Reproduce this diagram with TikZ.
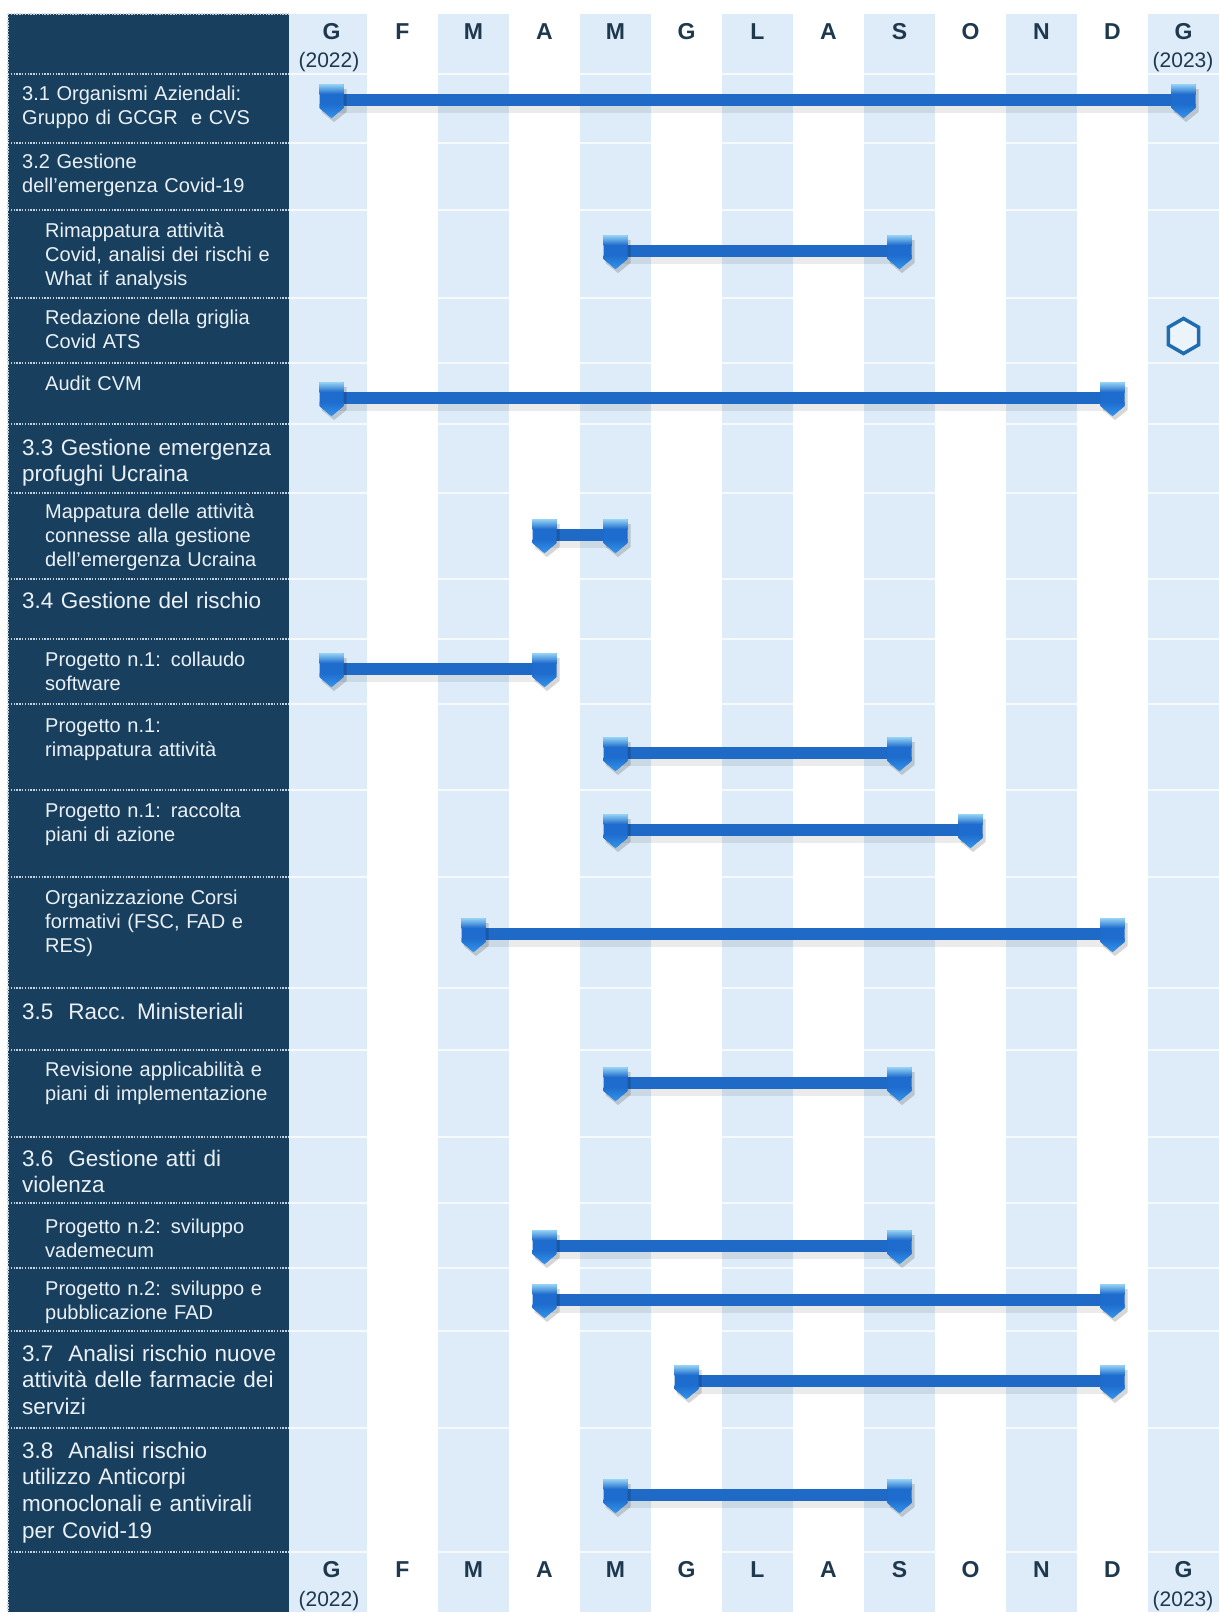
\documentclass[tikz,border=0pt]{standalone}
\usepackage{fontspec}
\setmainfont{Liberation Sans}
\usetikzlibrary{calc,shapes.geometric}

\definecolor{panel}{RGB}{24,64,94}
\definecolor{band}{RGB}{221,236,248}
\definecolor{barblue}{RGB}{30,106,198}
\definecolor{hdrtext}{RGB}{30,56,78}
\definecolor{paneltext}{RGB}{234,240,245}
\definecolor{sepdot}{RGB}{196,210,222}
\definecolor{marktop}{RGB}{150,212,246}
\definecolor{markbody}{RGB}{30,108,205}
\definecolor{markbot}{RGB}{52,148,236}
\definecolor{hexline}{RGB}{31,108,176}

\tikzset{
  sepline/.style={sepdot, line width=1.4pt, dash pattern=on 1.4pt off 1.4pt},
  rowline/.style={white, line width=1.5pt, opacity=0.75},
  monthlbl/.style={anchor=base, inner sep=0pt, text=hdrtext, font=\fontsize{23}{26}\selectfont\bfseries},
  yearlbl/.style={anchor=base, inner sep=0pt, text=hdrtext, font=\fontsize{21}{24}\selectfont},
  heading/.style={anchor=base west, inner sep=0pt, text=paneltext, align=left, text width=262pt,
                  font=\fontsize{22.5}{26.7}\selectfont},
  smallhead/.style={anchor=base west, inner sep=0pt, text=paneltext, align=left, text width=262pt,
                  font=\fontsize{20}{24}\selectfont},
  subitem/.style={anchor=base west, inner sep=0pt, text=paneltext, align=left, text width=240pt,
                  font=\fontsize{20}{24}\selectfont},
  barshadow/.style={line width=13pt, black, opacity=0.08},
  barline/.style={line width=11.5pt, barblue},
  gmark/.pic={
    \fill[black, opacity=0.16] (-10,-11) -- (15,-11) -- (15,12) -- (2.5,22) -- (-10,12) -- cycle;
    \fill[markbody] (-12,-16) -- (12,-16) -- (12,8) -- (0,18) -- (-12,8) -- cycle;
    \shade[top color=marktop, bottom color=markbody] (-12,-16) rectangle (12,-6);
    \shade[top color=markbody, bottom color=markbot] (-12,4) -- (12,4) -- (12,8) -- (0,18) -- (-12,8) -- cycle;
  },
}

% one Gantt bar: name, first month index, last month index, y position
\newcommand{\ganttbar}[4]{%
  \coordinate (#1s) at ({331.5+71*#2},#4);
  \coordinate (#1e) at ({331.5+71*#3},#4);
  \draw[barshadow] ($(#1s)+(2,6)$) -- ($(#1e)+(2,6)$);
  \draw[barline] (#1s) -- (#1e);
  \pic at (#1s) {gmark};
  \pic at (#1e) {gmark};
}

\begin{document}
\begin{tikzpicture}[x=1pt,y=-1pt]
\useasboundingbox (0,0) rectangle (1220,1612);
\fill[white] (0,0) rectangle (1220,1612);

% alternating month bands
\fill[band] (289,14) rectangle (367,1612);
\foreach \k in {2,4,...,12}{
  \fill[band] ({296+71*\k},14) rectangle ({367+71*\k},1612);
}

% faint row rules across the chart
\foreach \y in {74,143,210,298,363,424,493,579,639,704,790,877,988,1050,1137,1203,1268,1331,1428,1552}{
  \draw[rowline] (289,\y) -- (1220,\y);
}

% label panel
\fill[panel] (8,14) rectangle (289,1612);
\draw[sepline] (8,14) -- (289,14);
\draw[sepline] (8,14) -- (8,1612);
\foreach \y in {74,143,210,298,363,424,493,579,639,704,790,877,988,1050,1137,1203,1268,1331,1428,1552}{
  \draw[sepline] (8,\y) -- (289,\y);
}

% month headers, top and bottom
\foreach \m [count=\i from 0] in {G,F,M,A,M,G,L,A,S,O,N,D,G}{
  \node[monthlbl] (mt\i) at ({331.5+71*\i},39) {\m};
  \node[monthlbl] (mb\i) at ({331.5+71*\i},1577) {\m};
}
\node[yearlbl] (yt0) at (329,67) {(2022)};
\node[yearlbl] (yt1) at (1183,67) {(2023)};
\node[yearlbl] (yb0) at (329,1606) {(2022)};
\node[yearlbl] (yb1) at (1183,1606) {(2023)};

% activity labels
\node[smallhead] (t31) at (22,100.5) {3.1 Organismi Aziendali:\\Gruppo di GCGR\ \ e CVS};
\node[smallhead] (t32) at (22,168) {3.2 Gestione\\dell'emergenza Covid-19};
\node[subitem] (t32a) at (45,237) {Rimappatura attività\\Covid, analisi dei rischi e\\What if analysis};
\node[subitem] (t32b) at (45,324) {Redazione della griglia\\Covid ATS};
\node[subitem] (t32c) at (45,390) {Audit CVM};
\node[heading] (t33) at (22,455) {3.3 Gestione emergenza\\profughi Ucraina};
\node[subitem] (t33a) at (45,518) {Mappatura delle attività\\connesse alla gestione\\dell'emergenza Ucraina};
\node[heading] (t34) at (22,608) {3.4 Gestione del rischio};
\node[subitem] (t34a) at (45,666) {Progetto n.1: collaudo\\software};
\node[subitem] (t34b) at (45,732) {Progetto n.1:\\rimappatura attività};
\node[subitem] (t34c) at (45,817) {Progetto n.1: raccolta\\piani di azione};
\node[subitem] (t34d) at (45,904) {Organizzazione Corsi\\formativi (FSC, FAD e\\RES)};
\node[heading] (t35) at (22,1019) {3.5\ \ Racc. Ministeriali};
\node[subitem] (t35a) at (45,1076) {Revisione applicabilità e\\piani di implementazione};
\node[heading] (t36) at (22,1166) {3.6\ \ Gestione atti di\\violenza};
\node[subitem] (t36a) at (45,1233) {Progetto n.2: sviluppo\\vademecum};
\node[subitem] (t36b) at (45,1295) {Progetto n.2: sviluppo e\\pubblicazione FAD};
\node[heading] (t37) at (22,1361) {3.7\ \ Analisi rischio nuove\\attività delle farmacie dei\\servizi};
\node[heading] (t38) at (22,1458) {3.8\ \ Analisi rischio\\utilizzo Anticorpi\\monoclonali e antivirali\\per Covid-19};

% schedule bars
\ganttbar{b31}{0}{12}{100}
\ganttbar{brim}{4}{8}{251}
\ganttbar{baud}{0}{11}{398}
\ganttbar{bmap}{3}{4}{535}
\ganttbar{bcol}{0}{3}{669}
\ganttbar{brim2}{4}{8}{753}
\ganttbar{brac}{4}{9}{830}
\ganttbar{borg}{2}{11}{934}
\ganttbar{brev}{4}{8}{1083}
\ganttbar{bvad}{3}{8}{1246}
\ganttbar{bfad}{3}{11}{1300}
\ganttbar{b37}{5}{11}{1381}
\ganttbar{b38}{4}{8}{1495}

% milestone
\node[regular polygon, regular polygon sides=6, shape border rotate=30, minimum size=35pt,
      draw=hexline, line width=3.5pt, fill=band!60!white, inner sep=0pt] (hex) at ({331.5+71*12},336) {};
\end{tikzpicture}
\end{document}
